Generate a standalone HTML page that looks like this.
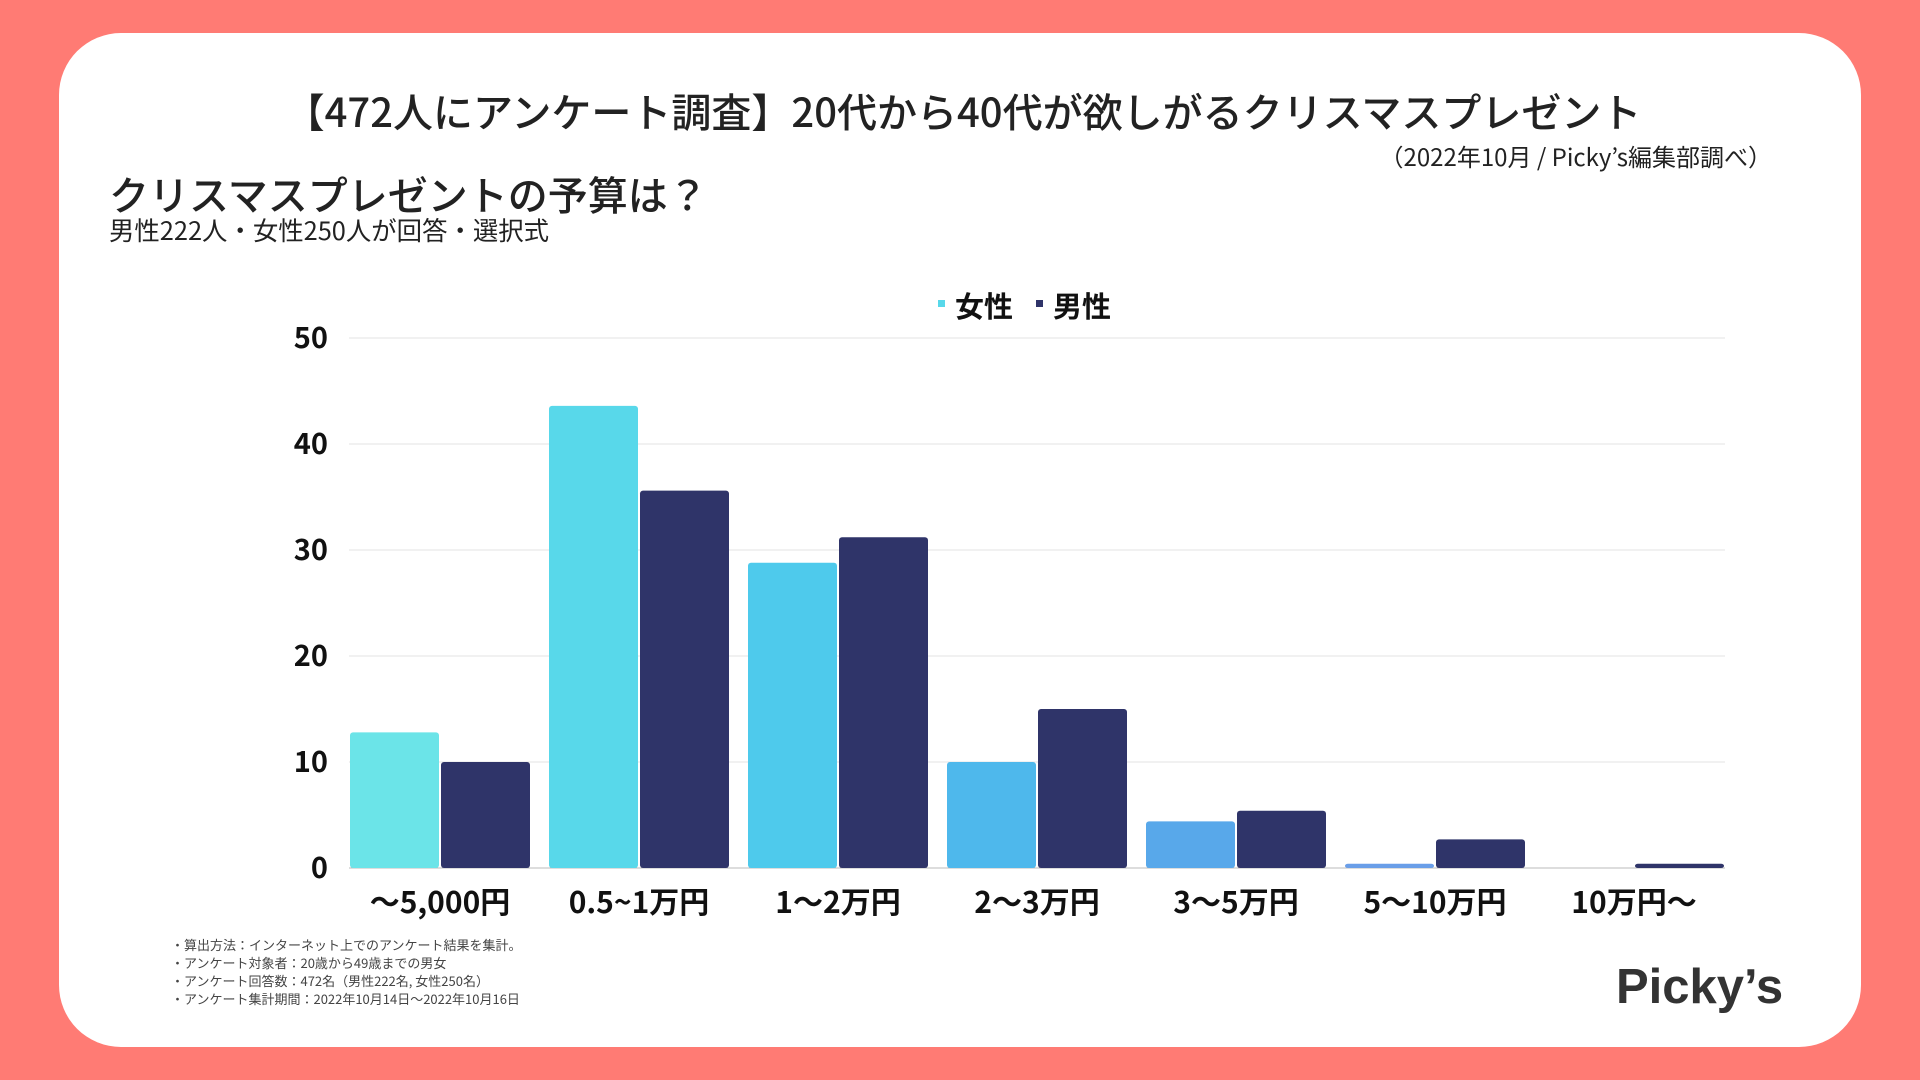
<!DOCTYPE html>
<html><head><meta charset="utf-8">
<style>
body{margin:0;width:1920px;height:1080px;background:#FF7B74;font-family:"Noto Sans CJK JP","Liberation Sans",sans-serif;overflow:hidden;position:relative}
#card{position:absolute;left:59px;top:33px;width:1802px;height:1014px;background:#fff;border-radius:62px}
.t{position:absolute;white-space:nowrap;color:#222;line-height:1.2}
</style></head><body>
<div id="card"></div>
<div class="t" style="left:0;width:1926px;text-align:center;top:86px;font-size:40px;font-weight:500;">【472人にアンケート調査】20代から40代が欲しがるクリスマスプレゼント</div>
<div class="t" style="right:148px;top:142px;font-size:24px;">（2022年10月 / Picky’s編集部調べ）</div>
<div class="t" style="left:109px;top:169px;font-size:40px;font-weight:500;">クリスマスプレゼントの予算は？</div>
<div class="t" style="left:109px;top:215px;font-size:25.4px;">男性222人・女性250人が回答・選択式</div>
<div class="t" style="left:171px;top:936px;font-size:13px;line-height:18px;color:#444;">・算出方法：インターネット上でのアンケート結果を集計。<br>・アンケート対象者：20歳から49歳までの男女<br>・アンケート回答数：472名（男性222名, 女性250名）<br>・アンケート集計期間：2022年10月14日〜2022年10月16日</div>
<div class="t" style="left:1616px;top:958px;font-size:49px;font-weight:bold;color:#333;font-family:'Liberation Sans',sans-serif;">Picky’s</div>
<svg id="chart" width="1920" height="1080" style="position:absolute;left:0;top:0"></svg>
<script>
const categories=["〜5,000円","0.5~1万円","1〜2万円","2〜3万円","3〜5万円","5〜10万円","10万円〜"];
const female=[12.8,43.6,28.8,10,4.4,0.4,0];
const male=[10,35.6,31.2,15,5.4,2.7,0.4];
const femaleColors=["#6BE4E8","#58D8EA","#4ECAEC","#4EB8EC","#58A8EA","#6A9EE8","#6A9EE8"];
const ticks=[0,10,20,30,40,50];
const maleColor="#2F3469";
const NS="http://www.w3.org/2000/svg";
const svg=document.getElementById('chart');
const x0=349,x1=1725,yTop=338,yBot=868,vmax=50;
const y=v=>yBot-(v/vmax)*(yBot-yTop);
const gw=199;
const bw=89;
const FF='"Noto Sans CJK JP","Liberation Sans",sans-serif';
function mk(t,a){const e=document.createElementNS(NS,t);for(const k in a)e.setAttribute(k,a[k]);svg.appendChild(e);return e;}
ticks.forEach(t=>{
  const l=mk('line',{x1:x0,x2:x1,y1:y(t),y2:y(t),stroke:t===0?'#bbb':'#e3e3e3','stroke-width':1});
  
  
  const tx=mk('text',{x:328,y:y(t)+10,'text-anchor':'end','font-size':29,'font-weight':'bold',fill:'#111','font-family':FF});
  tx.textContent=t;
  
  
});
categories.forEach((c,i)=>{
  const gx=350+i*gw;
  const fh=yBot-y(female[i]);
  if(fh>0){
    const r=mk('rect',{x:gx,y:y(female[i]),width:bw,height:fh,fill:femaleColors[i],rx:3});
    
    
  }
  const mh=yBot-y(male[i]);
  const r2=mk('rect',{x:gx+bw+2,y:y(male[i]),width:bw,height:mh,fill:maleColor,rx:3});
  
  
  const tx=mk('text',{x:gx+bw+1,y:913,'text-anchor':'middle','font-size':30,'font-weight':'bold',fill:'#111','font-family':FF});
  tx.textContent=c;
  
  
});
const lg=[["女性","#58D8EA",938],["男性",maleColor,1036]];
lg.forEach((d,i)=>{
  const r=mk('rect',{x:d[2],y:300,width:7,height:7,fill:d[1]});
  
  
  const t=mk('text',{x:d[2]+17,y:317,'font-size':29,'font-weight':'bold',fill:'#111','font-family':FF});
  t.textContent=d[0];
  
  
});
</script>
</body></html>
